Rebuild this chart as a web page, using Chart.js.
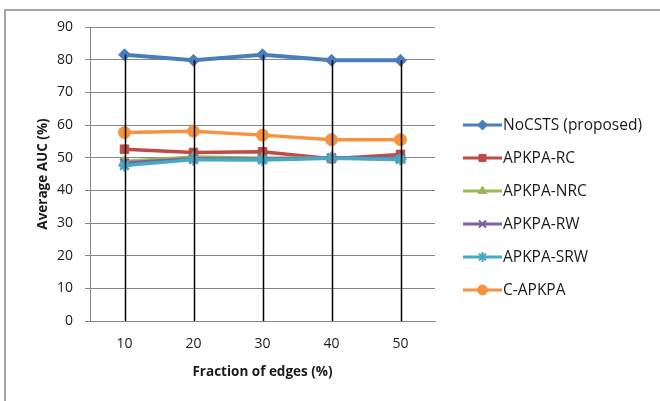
<!DOCTYPE html>
<html>
<head>
<meta charset="utf-8">
<script src="https://cdn.jsdelivr.net/npm/chart.js@4"></script>
<style>
  html, body { margin:0; padding:0; background:#fff; }
  #wrap { position:relative; width:660px; height:401px; overflow:hidden; }
  #frame { position:absolute; left:4px; top:9px; width:700px; height:450px; border-left:2px solid #a6a6a6; border-top:2px solid #a6a6a6; }
  canvas { position:absolute; left:0; top:0; }
</style>
</head>
<body>
<div id="wrap">
  <div id="frame"></div>
  <canvas id="c" width="660" height="401"></canvas>
</div>
<script>
// values
const categories = ['10', '20', '30', '40', '50'];
const seriesNames = ['NoCSTS (proposed)', 'APKPA-RC', 'APKPA-NRC', 'APKPA-RW', 'APKPA-SRW', 'C-APKPA'];
const noCSTS   = [81.5, 79.8, 81.5, 79.8, 79.8];
const apkpaRC  = [52.6, 51.6, 51.8, 49.7, 51.0];
const apkpaNRC = [48.8, 50.2, 49.8, 50.0, 49.4];
const apkpaRW  = [48.4, 49.7, 49.5, 50.0, 49.8];
const apkpaSRW = [47.6, 49.4, 49.3, 49.8, 49.5];
const cApkpa   = [57.7, 58.1, 56.9, 55.5, 55.5];
const yTicks = [0, 10, 20, 30, 40, 50, 60, 70, 80, 90];

const values = [noCSTS, apkpaRC, apkpaNRC, apkpaRW, apkpaSRW, cApkpa];
const colors = ['#4A7EBB', '#BE4B48', '#98B954', '#7D60A0', '#46AAC5', '#F69240'];
const styles = ['rectRot', 'rect', 'triangle', 'crossRot', 'star', 'circle'];

const FONT = '"Open Sans", "Liberation Sans", sans-serif';
const TXT = '#1a1a1a';

// Excel-style drop lines from the highest point down to the category axis
const dropLines = {
  id: 'dropLines',
  afterDatasetsDraw(chart){
    const ctx = chart.ctx;
    const y0 = chart.scales.y.getPixelForValue(0);
    const metas = chart.getSortedVisibleDatasetMetas();
    ctx.save();
    ctx.strokeStyle = '#000';
    ctx.lineWidth = 1.5;
    categories.forEach((c, i) => {
      let top = Infinity, x = 0;
      metas.forEach(m => { const p = m.data[i]; if(p && p.y < top){ top = p.y; x = p.x; } });
      ctx.beginPath();
      ctx.moveTo(Math.round(x) + 0.5, top);
      ctx.lineTo(Math.round(x) + 0.5, y0);
      ctx.stroke();
    });
    ctx.restore();
  }
};

// legend on the right: line sample + marker + label
const sideLegend = {
  id: 'sideLegend',
  afterDraw(chart){
    const ctx = chart.ctx;
    ctx.save();
    ctx.font = '15.5px ' + FONT;
    ctx.textBaseline = 'middle';
    seriesNames.forEach((name, i) => {
      const y = 125 + i * 33;
      ctx.strokeStyle = colors[i];
      ctx.lineWidth = 3;
      ctx.beginPath(); ctx.moveTo(463, y); ctx.lineTo(502, y); ctx.stroke();
      ctx.fillStyle = colors[i];
      ctx.lineWidth = styles[i] === 'crossRot' || styles[i] === 'star' ? 2 : 1;
      Chart.helpers.drawPoint(ctx, { pointStyle: styles[i], radius: 5, borderWidth: ctx.lineWidth, rotation: 0 }, 482.5, y);
      ctx.fillStyle = TXT;
      ctx.fillText(name, 503, y + 1);
    });
    ctx.restore();
  }
};

new Chart(document.getElementById('c'), {
  type: 'line',
  data: {
    labels: categories,
    datasets: seriesNames.map((n, i) => ({
      label: n,
      data: values[i],
      borderColor: colors[i],
      backgroundColor: colors[i],
      pointBackgroundColor: colors[i],
      pointBorderColor: colors[i],
      pointStyle: styles[i],
      pointRadius: 6,
      pointBorderWidth: (styles[i] === 'crossRot' || styles[i] === 'star') ? 2.5 : 1,
      borderWidth: i === 0 ? 4 : 3.5,
      tension: 0,
      fill: false,
      order: 5 - i
    }))
  },
  options: {
    responsive: false,
    animation: false,
    events: [],
    layout: { padding: { top: 27, right: 225, left: 0, bottom: 0 } },
    plugins: { legend: { display: false }, tooltip: { enabled: false } },
    scales: {
      x: {
        offset: true,
        grid: { display: false, drawTicks: false },
        border: { display: true, color: '#868686', width: 1 },
        ticks: { padding: 15, color: TXT, font: { family: FONT, size: 14 } },
        title: { display: true, text: 'Fraction of edges (%)', color: TXT, font: { family: FONT, size: 13.5, weight: 'bold' }, padding: { top: 0, bottom: 21 } },
        afterFit(s){ s.height = 80; }
      },
      y: {
        min: 0, max: 90,
        afterBuildTicks(s){ s.ticks = yTicks.map(v => ({ value: v })); },
        grid: { color: '#868686', lineWidth: 1, tickLength: 5, drawTicks: true },
        border: { display: true, color: '#868686', width: 1 },
        ticks: { padding: 12, color: TXT, font: { family: FONT, size: 14 } },
        title: { display: true, text: 'Average AUC (%)', color: TXT, font: { family: FONT, size: 13.5, weight: 'bold' }, padding: { top: 35, bottom: 0 } },
        afterFit(s){ s.width = 90; }
      }
    }
  },
  plugins: [dropLines, sideLegend]
});
</script>
</body>
</html>
